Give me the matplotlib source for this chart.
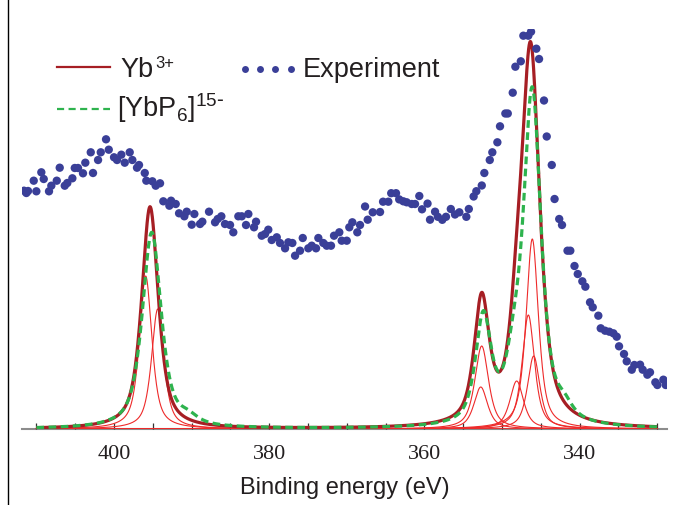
import numpy as np
import matplotlib
matplotlib.use("Agg")
import matplotlib.pyplot as plt
from matplotlib.lines import Line2D

# ---------------- data ----------------
exp_be = [411.60, 411.30, 411.08, 410.35, 410.01, 409.37, 409.06, 408.38, 408.08, 407.38,
          407.00, 406.35, 406.02, 405.37, 405.06, 404.64, 404.00, 403.70, 403.00, 402.71,
          402.06, 401.71, 401.03, 400.68, 400.00, 399.61, 399.06, 398.62, 397.98, 397.64,
          397.04, 396.78, 396.04, 395.84, 395.06, 394.63, 394.07, 393.65, 392.87, 392.65,
          392.05, 391.62, 390.94, 390.63, 389.99, 389.65, 388.92, 388.62, 387.76, 386.98,
          386.64, 386.17, 385.70, 385.05, 384.63, 383.98, 383.54, 382.99, 382.69, 381.96,
          381.70, 380.97, 380.54, 380.12, 379.68, 379.03, 378.61, 377.96, 377.54, 377.02,
          376.67, 376.03, 375.68, 374.96, 374.52, 373.97, 373.67, 373.03, 372.59, 372.04,
          371.65, 370.97, 370.66, 370.01, 369.68, 369.29, 368.65, 368.30, 367.65, 367.31,
          366.66, 365.72, 365.33, 364.65, 364.28, 363.66, 363.25, 362.72, 362.28, 361.64,
          361.21, 360.66, 360.31, 359.60, 359.28, 358.63, 358.27, 357.70, 357.22, 356.60,
          356.06, 355.50, 354.60, 354.28, 353.66, 353.31, 352.61, 352.28, 351.58, 351.25,
          350.60, 350.26, 349.57, 349.26, 348.62, 348.28, 347.58, 347.25, 346.61, 346.26,
          345.58, 345.23, 344.59, 344.24, 343.59, 343.23, 342.63, 342.27, 341.56, 341.20,
          340.66, 340.24, 339.65, 339.26, 338.66, 338.31, 337.59, 337.28, 336.72, 336.17,
          335.65, 335.22, 334.92, 334.28, 333.93, 333.28, 332.95, 332.21, 331.87, 331.27,
          330.93, 330.24, 329.98, 329.21, 328.90]
exp_int = [238.3, 236.0, 238.0, 248.3, 237.7, 256.7, 250.0, 237.7, 243.3, 248.3,
           261.3, 243.3, 246.0, 250.7, 261.0, 261.0, 255.7, 266.3, 276.7, 256.0,
           269.0, 276.7, 289.7, 279.3, 271.7, 269.0, 274.3, 266.3, 276.7, 269.0,
           261.3, 264.0, 256.0, 248.3, 247.7, 243.3, 245.7, 227.7, 223.3, 228.3,
           225.0, 215.7, 212.7, 217.3, 204.3, 215.0, 205.0, 207.3, 217.3, 206.7,
           210.0, 212.7, 205.0, 204.0, 196.7, 212.7, 212.7, 204.0, 215.0, 201.7,
           207.3, 193.3, 195.0, 199.3, 189.0, 191.7, 186.0, 180.7, 186.7, 186.0,
           173.3, 178.3, 191.0, 180.7, 183.3, 180.7, 191.0, 186.0, 183.3, 183.3,
           193.3, 196.7, 188.3, 188.3, 201.7, 206.7, 196.7, 204.0, 222.5, 209.3,
           216.7, 217.0, 227.3, 227.3, 235.8, 235.8, 229.6, 227.7, 226.7, 225.0,
           225.0, 233.0, 219.7, 225.4, 209.3, 217.3, 212.2, 209.2, 212.2, 220.0,
           214.5, 216.7, 212.2, 220.0, 232.5, 237.8, 243.5, 256.0, 269.0, 276.7,
           286.7, 302.7, 315.5, 315.5, 336.3, 362.3, 367.7, 393.3, 393.3, 397.3,
           380.3, 370.0, 328.5, 292.5, 264.0, 230.0, 210.0, 204.0, 178.3, 178.3,
           163.0, 155.0, 147.7, 142.3, 126.7, 121.7, 113.3, 100.7, 98.3, 97.3,
           95.7, 92.3, 82.7, 75.0, 67.7, 59.3, 64.0, 64.3, 59.3, 54.3,
           56.7, 46.7, 44.0, 49.3, 44.0]

# Yb3+ total fit: peak centres (eV), heights, FWHM (eV)
yb_centers = [395.36, 352.62, 348.10, 346.30]
yb_heights = [222.0, 122.0, 60.0, 370.0]
yb_fwhm = [2.55, 2.3, 2.2, 2.8]

# thin red components
comp_centers = [395.92, 394.37, 352.62, 352.74, 348.11, 346.61, 345.92, 346.10]
comp_heights = [153.0, 120.0, 83.0, 42.0, 48.0, 114.0, 73.0, 190.0]
comp_fwhm = [1.9, 1.9, 2.1, 2.1, 2.1, 1.9, 1.9, 1.9]

# [YbP6]15- fit
p6_centers = [395.14, 390.5, 352.41, 348.5, 346.10, 342.0]
p6_heights = [196.0, 7.0, 105.0, 45.0, 331.0, 12.0]
p6_fwhm = [2.9, 3.0, 2.4, 2.5, 2.7, 2.5]

major_ticks = [400, 380, 360, 340]
minor_ticks = [410, 405, 395, 390, 385, 375, 370, 365, 355, 350, 345, 335, 330]


def pvoigt(x, c, h, w, eta=0.7):
    d = (x - c) / (w / 2.0)
    return h * (eta / (1 + d ** 2) + (1 - eta) * np.exp(-np.log(2) * d ** 2))


E = np.linspace(410, 330, 2401)
yb_total = sum(pvoigt(E, c, h, w) for c, h, w in zip(yb_centers, yb_heights, yb_fwhm))
p6_total = sum(pvoigt(E, c, h, w) for c, h, w in zip(p6_centers, p6_heights, p6_fwhm))

W, H = 681, 506
fig = plt.figure(figsize=(W / 100, H / 100), dpi=100)
ax = fig.add_axes([22 / W, (H - 430) / H, 645 / W, 400 / H])

DARK = '#a61e24'
THIN = '#ee2a2a'
GREEN = '#2eb34e'
BLUE = '#3a3f98'
TXT = '#231f20'

for c, h, w in zip(comp_centers, comp_heights, comp_fwhm):
    ax.plot(E, pvoigt(E, c, h, w), color=THIN, lw=0.8, zorder=2)
ax.plot(E, yb_total, color=DARK, lw=2.3, zorder=3, solid_capstyle='butt')
ax.plot(E, p6_total, color=GREEN, lw=2.3, ls=(0, (2.4, 1.4)), zorder=4)
ax.scatter(exp_be, exp_int, s=36, color=BLUE, edgecolors='none', zorder=5)

ax.set_xlim(411.86, 328.74)
ax.set_ylim(0, 400)
for s in ['top', 'right', 'left']:
    ax.spines[s].set_visible(False)
ax.spines['bottom'].set_color('#8c8c8c')
ax.spines['bottom'].set_linewidth(1.5)
ax.spines['bottom'].set_zorder(1)
ax.set_yticks([])
ax.set_xticks(major_ticks)
ax.set_xticks(minor_ticks, minor=True)
ax.tick_params(axis='x', which='both', direction='in', length=4.5, width=0.9,
               color='#333333', pad=11)
ax.tick_params(axis='x', which='major', labelsize=16, labelcolor=TXT)
for lab in ax.get_xticklabels():
    lab.set_fontfamily('Liberation Serif')
ax.set_xlabel('Binding energy (eV)', fontsize=17, family='Liberation Sans',
              color=TXT, labelpad=9)

# left border line of the figure
fig.add_artist(Line2D([7.5 / W, 7.5 / W], [0, 1], transform=fig.transFigure,
                      color='black', lw=1.0))


def fx(px):
    return px / W


def fy(py):
    return 1 - py / H


# legend (drawn manually)
fig.add_artist(Line2D([fx(56.7), fx(110)], [fy(67.7), fy(67.7)], transform=fig.transFigure,
                      color=DARK, lw=1.6))
fig.add_artist(Line2D([fx(56.7), fx(110)], [fy(110), fy(110)], transform=fig.transFigure,
                      color=GREEN, lw=1.6, ls=(0, (3.2, 2.0))))
fig.add_artist(Line2D([fx(v) for v in (245, 260, 275, 290.7)], [fy(70)] * 4,
                      transform=fig.transFigure, ls='none', marker='o', ms=5,
                      mfc=BLUE, mec='none'))
tk = dict(family='Liberation Sans', color=TXT, va='baseline', ha='left')
fig.text(fx(120), fy(76.7), 'Yb', fontsize=19.5, **tk)
fig.text(fx(155), fy(67.5), '3+', fontsize=12, **tk)
fig.text(fx(303), fy(76.7), 'Experiment', fontsize=19.5, **tk)
fig.text(fx(117), fy(116.7), r'[YbP$_{\mathregular{6}}$]$^{\mathregular{15\text{-}}}$',
         fontsize=19.5, **tk)

fig.savefig('out.png', dpi=100)
